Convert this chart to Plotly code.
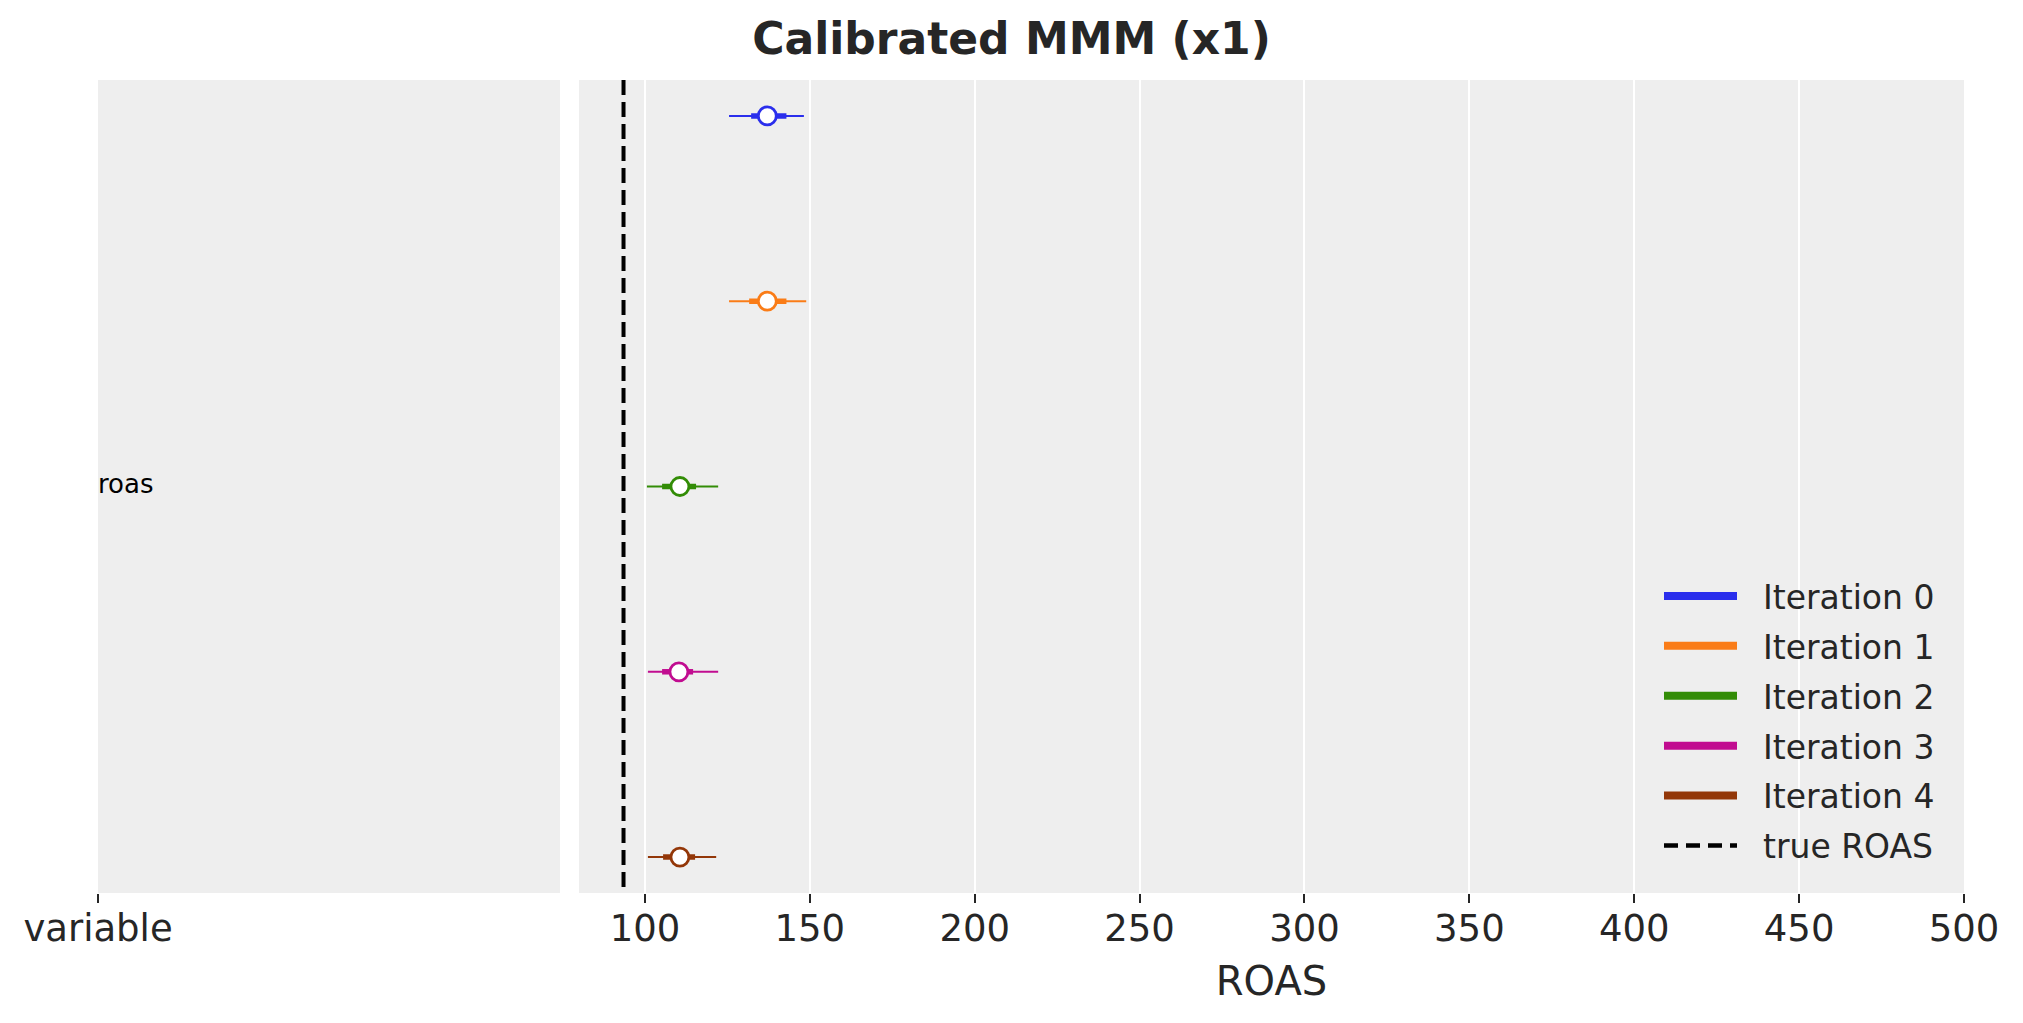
import plotly.graph_objects as go

# ---- data ----
iterations = ["Iteration 0", "Iteration 1", "Iteration 2", "Iteration 3", "Iteration 4"]
medians = [137.1, 137.1, 110.6, 110.3, 110.6]
hdi_low = [125.5, 125.5, 100.6, 100.9, 100.9]
hdi_high = [148.2, 148.9, 122.2, 122.2, 121.6]
iqr_low = [132.2, 131.6, 105.2, 105.2, 105.5]
iqr_high = [142.9, 142.9, 115.5, 114.6, 115.2]
true_roas = 93.5
variable_label = "roas"
x_ticks = [100, 150, 200, 250, 300, 350, 400, 450, 500]

colors = ["#2a2eec", "#fa7c17", "#328c06", "#c10c90", "#933708"]

FONT = "DejaVu Sans"
TXT = "#262626"
BG = "#eeeeee"
W, H = 2023, 1023
OFF = 8  # page body margin compensation
ypad = 0.194
n = len(iterations)
yrange = [n - 1 + ypad, -ypad]
NB = "\u00a0\u00a0"

fig = go.Figure()

for i, name in enumerate(iterations):
    c = colors[i]
    fig.add_trace(go.Scatter(x=[hdi_low[i], hdi_high[i]], y=[i, i], mode="lines",
                             line=dict(color=c, width=2), showlegend=False,
                             hoverinfo="skip", xaxis="x2", yaxis="y2"))
    fig.add_trace(go.Scatter(x=[iqr_low[i], iqr_high[i]], y=[i, i], mode="lines",
                             line=dict(color=c, width=5.5), showlegend=False,
                             hoverinfo="skip", xaxis="x2", yaxis="y2"))
    fig.add_trace(go.Scatter(x=[medians[i]], y=[i], mode="markers",
                             marker=dict(size=18, color="white", line=dict(color=c, width=2.8)),
                             showlegend=False, xaxis="x2", yaxis="y2"))

# true ROAS line
fig.add_trace(go.Scatter(x=[true_roas, true_roas], y=[-ypad, n - 1 + ypad], mode="lines",
                         line=dict(color="black", width=4, dash="15px,7px"),
                         showlegend=False, hoverinfo="skip",
                         xaxis="x2", yaxis="y2"))

# legend entries
for i, name in enumerate(iterations):
    fig.add_trace(go.Scatter(x=[None], y=[None], mode="lines", name=NB + name,
                             legendgroup="g%d" % i,
                             line=dict(color=colors[i], width=8),
                             xaxis="x2", yaxis="y2"))
fig.add_trace(go.Scatter(x=[None], y=[None], mode="lines", name=NB + "true ROAS",
                         legendgroup="g_true",
                         line=dict(color="black", width=4.5, dash="14px,8px"),
                         xaxis="x2", yaxis="y2"))

# left panel label
fig.add_trace(go.Scatter(x=[0], y=[(n - 1) / 2], mode="text", text=[variable_label],
                         textposition="middle right",
                         textfont=dict(family=FONT, size=26, color="black"),
                         showlegend=False, hoverinfo="skip", xaxis="x", yaxis="y"))

ytop = 1 - (80 - OFF) / H
ybot = 1 - (893 - OFF) / H

fig.update_layout(
    width=W, height=H,
    margin=dict(l=0, r=0, t=0, b=0, autoexpand=False),
    paper_bgcolor="white", plot_bgcolor=BG,
    font=dict(family=FONT, color=TXT),
    title=dict(text="<b>Calibrated MMM (x1)</b>", x=0.5 - OFF / W, xanchor="center",
               y=1 - (39 - OFF) / H, yanchor="middle",
               font=dict(family=FONT, size=44, color=TXT)),
    xaxis=dict(domain=[(98 - OFF) / W, (560 - OFF) / W], range=[0, 1], tickmode="array",
               tickvals=[0], ticktext=["variable"], showgrid=False, zeroline=False,
               ticks="outside", ticklen=9, tickwidth=1.5, tickcolor=TXT,
               ticklabelstandoff=-6, automargin=False,
               tickfont=dict(size=37, color=TXT), showline=False, anchor="y"),
    yaxis=dict(domain=[ybot, ytop], range=yrange, showticklabels=False, automargin=False,
               showgrid=False, zeroline=False, ticks="", anchor="x"),
    xaxis2=dict(domain=[(579 - OFF) / W, (1964 - OFF) / W], range=[80, 500], tickmode="array",
                tickvals=x_ticks, ticktext=[str(t) for t in x_ticks],
                showgrid=True, gridcolor="white", gridwidth=2, zeroline=False,
                ticks="outside", ticklen=9, tickwidth=1.5, tickcolor=TXT,
                ticklabelstandoff=-6, automargin=False,
                tickfont=dict(size=37, color=TXT), showline=False, anchor="y2",
                title=dict(text="ROAS", font=dict(size=40, color=TXT), standoff=17)),
    yaxis2=dict(domain=[ybot, ytop], range=yrange, showticklabels=False, automargin=False,
                showgrid=False, zeroline=False, ticks="", anchor="x2"),
    legend=dict(x=(1940 - OFF) / W, xanchor="right", y=1 - (568 - OFF) / H, yanchor="top",
                bgcolor="rgba(0,0,0,0)", borderwidth=0, itemwidth=73, tracegroupgap=4,
                font=dict(family=FONT, size=33, color=TXT)),
    showlegend=True,
)

fig.write_html("out.html")
